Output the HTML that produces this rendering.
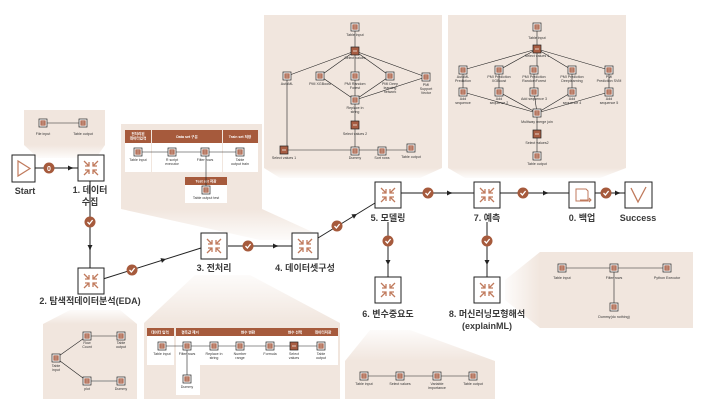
<!DOCTYPE html>
<html><head><meta charset="utf-8"><style>
body{margin:0;background:#fff;width:705px;height:413px;overflow:hidden}
svg{display:block}
text{font-family:"Liberation Sans","Noto Sans CJK KR",sans-serif}
.m{font-size:9px;fill:#3a3a3a;font-weight:bold;text-anchor:middle}
.s{font-size:3.6px;fill:#333;text-anchor:middle}
.h{font-size:3.6px;fill:#fff;text-anchor:middle;font-weight:bold}
.ln{stroke:#222;stroke-width:0.6;fill:none}
.g{stroke:#8c8c8c;stroke-width:2;fill:none}
</style></head><body>
<svg width="705" height="413" viewBox="0 0 705 413" xmlns="http://www.w3.org/2000/svg">
<defs>
<linearGradient id="fd" x1="0" y1="0" x2="0" y2="1"><stop offset="0" stop-color="#f1e6de"/><stop offset="1" stop-color="#f1e6de" stop-opacity="0.15"/></linearGradient>
<linearGradient id="fu" x1="0" y1="1" x2="0" y2="0"><stop offset="0" stop-color="#f1e6de"/><stop offset="1" stop-color="#f1e6de" stop-opacity="0.15"/></linearGradient>
<linearGradient id="fl" x1="1" y1="0" x2="0" y2="0"><stop offset="0" stop-color="#f1e6de"/><stop offset="1" stop-color="#f1e6de" stop-opacity="0.15"/></linearGradient>
<g id="node">
<rect x="0" y="0" width="26" height="26" fill="#fff" stroke="#222" stroke-width="1"/>
<g stroke="#c07a5c" stroke-width="1.3" fill="none">
<path d="M6 6L11 11M11 7V11H7"/><path d="M20 6L15 11M15 7V11H19"/>
<path d="M6 20L11 15M11 19V15H7"/><path d="M20 20L15 15M15 19V15H19"/>
</g></g>
<g id="si"><rect x="-4" y="-4" width="8" height="8" fill="#fff" stroke="#222" stroke-width="0.7"/><rect x="-2.6" y="-2.6" width="5.2" height="5.2" fill="#a85d43"/><path d="M-1.6 -1H1.6M-1.6 1H1.6" stroke="#fff" stroke-width="0.6"/></g>
<g id="sf"><rect x="-4" y="-4" width="8" height="8" fill="#a85d43" stroke="#222" stroke-width="0.7"/><path d="M-2 0H2" stroke="#fff" stroke-width="0.7"/></g>
<g id="ck"><circle r="5.5" fill="#a65a3c"/><path d="M-2.5 0L-0.6 2L2.6 -2" stroke="#fff" stroke-width="1.3" fill="none"/></g>
<path id="ar" d="M0 0L-5 -2.5V2.5Z" fill="#222"/>
</defs>

<!-- callout trapezoids -->
<path d="M24 145H105L96 158H38Z" fill="url(#fd)"/>
<path d="M121 209H262L330 240H260Z" fill="url(#fd)"/>
<path d="M264 168H442L420 178H280Z" fill="url(#fd)"/>
<path d="M448 168H626L600 178H465Z" fill="url(#fd)"/>
<path d="M43 324H137L120 310H70Z" fill="url(#fu)"/>
<path d="M144 323H340L250 275H195Z" fill="url(#fu)"/>
<path d="M345 361H495L410 330H370Z" fill="url(#fu)"/>
<path d="M540 252V328L505 300V280Z" fill="url(#fl)"/>

<!-- panels -->
<rect x="24" y="110" width="81" height="35" fill="#f1e6de"/>
<rect x="121" y="124" width="141" height="85" fill="#f1e6de"/>
<rect x="264" y="15" width="178" height="153" fill="#f1e6de"/>
<rect x="448" y="15" width="178" height="153" fill="#f1e6de"/>
<rect x="43" y="324" width="94" height="75" fill="#f1e6de"/>
<rect x="144" y="323" width="196" height="76" fill="#f1e6de"/>
<rect x="345" y="361" width="150" height="38" fill="#f1e6de"/>
<rect x="540" y="252" width="153" height="76" fill="#f1e6de"/>

<!-- file input panel -->
<line class="ln" x1="43" y1="123" x2="83" y2="123"/>
<use href="#si" x="43" y="123"/><use href="#si" x="83" y="123"/>
<text class="s" x="43" y="135">File input</text><text class="s" x="83" y="135">Table output</text>

<!-- preprocess top panel -->
<rect x="125" y="130" width="26" height="13" fill="#a65a3c"/>
<rect x="152" y="130" width="70" height="13" fill="#a65a3c"/>
<rect x="223" y="130" width="35" height="13" fill="#a65a3c"/>
<rect x="125" y="143" width="26" height="29" fill="#fff"/>
<rect x="152" y="143" width="70" height="29" fill="#fff"/>
<rect x="223" y="143" width="35" height="29" fill="#fff"/>
<rect x="185" y="177" width="42" height="8" fill="#a65a3c"/>
<rect x="185" y="185" width="42" height="18" fill="#fff"/>
<text class="h" x="138" y="135">전처리된</text><text class="h" x="138" y="139.5">데이터입력</text>
<text class="h" x="187" y="138">Data set 구분</text><text class="h" x="240" y="138">Train set 저장</text>
<text class="h" x="206" y="182.5">Test set 저장</text>
<line class="ln" x1="138" y1="152" x2="240" y2="152"/><line class="ln" x1="206" y1="152" x2="206" y2="190"/>
<use href="#si" x="138" y="152"/><use href="#si" x="172" y="152"/><use href="#si" x="205" y="152"/><use href="#si" x="240" y="152"/><use href="#si" x="206" y="190"/>
<text class="s" x="138" y="161">Table input</text><text class="s" x="172" y="161">R script</text><text class="s" x="172" y="165">executor</text>
<text class="s" x="205" y="161">Filter rows</text><text class="s" x="240" y="161">Table</text><text class="s" x="240" y="165">output train</text>
<text class="s" x="206" y="199">Table output test</text>

<!-- top left model panel -->
<g class="ln">
<path d="M355 27V51"/><path d="M355 51L287 76M355 51L320 76M355 51V76M355 51L390 76M355 51L426 77"/>
<path d="M320 76L355 100M355 76V100M390 76L355 100M426 77L355 100"/>
<path d="M355 100V125V151"/><path d="M287 76V150H411"/>
</g>
<use href="#si" x="355" y="27"/><use href="#sf" x="355" y="51"/>
<use href="#si" x="287" y="76"/><use href="#si" x="320" y="76"/><use href="#si" x="355" y="76"/><use href="#si" x="390" y="76"/><use href="#si" x="426" y="77"/>
<use href="#si" x="355" y="100"/><use href="#sf" x="355" y="125"/>
<use href="#sf" x="284" y="150"/><use href="#si" x="355" y="151"/><use href="#si" x="382" y="151"/><use href="#si" x="411" y="148"/>
<text class="s" x="355" y="36">Table input</text><text class="s" x="355" y="59">Select values</text>
<text class="s" x="287" y="85">AutoML</text><text class="s" x="320" y="85">PMI XGBoost</text>
<text class="s" x="355" y="85">PMI Random</text><text class="s" x="355" y="89">Forest</text>
<text class="s" x="390" y="85">PMI Deep</text><text class="s" x="390" y="89">learning</text><text class="s" x="390" y="93">network</text>
<text class="s" x="426" y="86">PMI</text><text class="s" x="426" y="90">Support</text><text class="s" x="426" y="94">Vector</text>
<text class="s" x="355" y="109">Replace in</text><text class="s" x="355" y="113">string</text>
<text class="s" x="355" y="135">Select values 2</text>
<text class="s" x="284" y="159">Select values 1</text><text class="s" x="355" y="159">Dummy</text><text class="s" x="382" y="159">Sort rows</text><text class="s" x="411" y="158">Table output</text>

<!-- top right prediction panel -->
<g class="ln">
<path d="M537 27V49"/><path d="M537 49L463 70M537 49L499 70M537 49V70M537 49L572 70M537 49L609 70"/>
<path d="M463 70V92M499 70V92M534 70V92M572 70V92M609 70V92"/>
<path d="M463 92L537 113M499 92L537 113M534 92L537 113M572 92L537 113M609 92L537 113"/>
<path d="M537 113V156"/>
</g>
<use href="#si" x="537" y="27"/><use href="#sf" x="537" y="49"/>
<use href="#si" x="463" y="70"/><use href="#si" x="499" y="70"/><use href="#si" x="534" y="70"/><use href="#si" x="572" y="70"/><use href="#si" x="609" y="70"/>
<use href="#si" x="463" y="92"/><use href="#si" x="499" y="92"/><use href="#si" x="534" y="92"/><use href="#si" x="572" y="92"/><use href="#si" x="609" y="92"/>
<use href="#si" x="537" y="113"/><use href="#sf" x="537" y="134"/><use href="#si" x="537" y="156"/>
<text class="s" x="537" y="39">Table input</text><text class="s" x="537" y="57">Select values 1</text>
<text class="s" x="463" y="78">AutoML</text><text class="s" x="463" y="82">Prediction</text>
<text class="s" x="499" y="78">PMI Prediction</text><text class="s" x="499" y="82">XGBoost</text>
<text class="s" x="534" y="78">PMI Prediction</text><text class="s" x="534" y="82">RandomForest</text>
<text class="s" x="572" y="78">PMI Prediction</text><text class="s" x="572" y="82">Deeplearning</text>
<text class="s" x="609" y="78">PMI</text><text class="s" x="609" y="82">Prediction SVM</text>
<text class="s" x="463" y="100">Add</text><text class="s" x="463" y="104">sequence</text>
<text class="s" x="499" y="100">Add</text><text class="s" x="499" y="104">sequence 2</text>
<text class="s" x="534" y="100">Add sequence 3</text>
<text class="s" x="572" y="100">Add</text><text class="s" x="572" y="104">sequence 4</text>
<text class="s" x="609" y="100">Add</text><text class="s" x="609" y="104">sequence 5</text>
<text class="s" x="537" y="123">Multiway merge join</text><text class="s" x="537" y="144">Select values2</text><text class="s" x="537" y="165">Table output</text>

<!-- EDA panel -->
<g class="ln"><path d="M56 358L87 336H121M56 358L87 381"/></g>
<line x1="87" y1="381" x2="121" y2="381" stroke="#999" stroke-width="1.2"/>
<use href="#si" x="56" y="358"/><use href="#si" x="87" y="336"/><use href="#si" x="121" y="336"/><use href="#si" x="87" y="381"/><use href="#si" x="121" y="381"/>
<text class="s" x="56" y="367">Table</text><text class="s" x="56" y="371">input</text>
<text class="s" x="87" y="344">Row</text><text class="s" x="87" y="348">Count</text>
<text class="s" x="121" y="344">Table</text><text class="s" x="121" y="348">output</text>
<text class="s" x="87" y="390">plot</text><text class="s" x="121" y="390">Dummy</text>

<!-- preprocess bottom panel -->
<rect x="147" y="328" width="27" height="8" fill="#a65a3c"/>
<rect x="176" y="328" width="162" height="8" fill="#a65a3c"/>
<rect x="147" y="336" width="27" height="29" fill="#fff"/>
<rect x="176" y="336" width="162" height="29" fill="#fff"/>
<rect x="176" y="365" width="24" height="30" fill="#fff"/>
<text class="h" x="160" y="333.5">데이터 입력</text><text class="h" x="190" y="333.5">결측값 제거</text>
<text class="h" x="248" y="333.5">변수 변환</text><text class="h" x="295" y="333.5">변수 선택</text><text class="h" x="323" y="333.5">데이터저장</text>
<g class="ln"><path d="M162 346H321M187 346V379"/></g>
<use href="#si" x="162" y="346"/><use href="#si" x="187" y="346"/><use href="#si" x="214" y="346"/><use href="#si" x="240" y="346"/><use href="#si" x="270" y="346"/><use href="#sf" x="294" y="346"/><use href="#si" x="321" y="346"/><use href="#si" x="187" y="379"/>
<text class="s" x="162" y="355">Table input</text><text class="s" x="187" y="355">Filter rows</text>
<text class="s" x="214" y="355">Replace in</text><text class="s" x="214" y="359">string</text>
<text class="s" x="240" y="355">Number</text><text class="s" x="240" y="359">range</text>
<text class="s" x="270" y="355">Formula</text>
<text class="s" x="294" y="355">Select</text><text class="s" x="294" y="359">values</text>
<text class="s" x="321" y="355">Table</text><text class="s" x="321" y="359">output</text>
<text class="s" x="187" y="388">Dummy</text>

<!-- var importance panel -->
<line class="ln" x1="364" y1="376" x2="473" y2="376"/>
<use href="#si" x="364" y="376"/><use href="#si" x="400" y="376"/><use href="#si" x="437" y="376"/><use href="#si" x="473" y="376"/>
<text class="s" x="364" y="385">Table input</text><text class="s" x="400" y="385">Select values</text>
<text class="s" x="437" y="385">Variable</text><text class="s" x="437" y="389">importance</text><text class="s" x="473" y="385">Table output</text>

<!-- explain panel -->
<g class="ln"><path d="M562 268H667M614 268V307"/></g>
<use href="#si" x="562" y="268"/><use href="#si" x="614" y="268"/><use href="#si" x="667" y="268"/><use href="#si" x="614" y="307"/>
<text class="s" x="562" y="279">Table input</text><text class="s" x="614" y="279">Filter rows</text><text class="s" x="667" y="279">Python Executor</text>
<text class="s" x="614" y="318">Dummy(do nothing)</text>

<!-- main connectors -->
<line class="g" x1="35" y1="168" x2="78" y2="168"/><use href="#ar" x="73" y="168"/>
<circle cx="49" cy="168" r="5.5" fill="#a65a3c"/><text x="49" y="171" font-size="7" fill="#fff" text-anchor="middle" font-weight="bold">0</text>
<line class="g" x1="90" y1="181" x2="90" y2="268"/><use href="#ar" transform="translate(90 250) rotate(90)"/><use href="#ck" x="90" y="222"/>
<line x1="103" y1="279" x2="201" y2="248" stroke="#222" stroke-width="1"/><use href="#ar" transform="translate(166 259) rotate(-17)"/><use href="#ck" x="132" y="270"/>
<line class="g" x1="228" y1="246" x2="292" y2="246"/><use href="#ar" transform="translate(278 246)"/><use href="#ck" x="248" y="246"/>
<line x1="318" y1="238" x2="375" y2="203" stroke="#222" stroke-width="1"/><use href="#ar" transform="translate(357 214) rotate(-31)"/><use href="#ck" x="337" y="226"/>
<line class="g" x1="401" y1="193" x2="474" y2="193"/><use href="#ar" x="452" y="193"/><use href="#ck" x="428" y="193"/>
<line class="g" x1="500" y1="193" x2="569" y2="193"/><use href="#ar" x="548" y="193"/><use href="#ck" x="523" y="193"/>
<line class="g" x1="595" y1="193" x2="625" y2="193"/><use href="#ar" x="620" y="193"/><use href="#ck" x="606" y="193"/>
<line x1="388" y1="222" x2="388" y2="277" stroke="#222" stroke-width="1"/><use href="#ar" transform="translate(388 265) rotate(90)"/><use href="#ck" x="388" y="241"/>
<line x1="487" y1="222" x2="487" y2="277" stroke="#222" stroke-width="1"/><use href="#ar" transform="translate(487 265) rotate(90)"/><use href="#ck" x="487" y="241"/>

<!-- main nodes -->
<rect x="12" y="155" width="23" height="27" fill="#fff" stroke="#222" stroke-width="1"/>
<path d="M18 161V176L30 168.5Z" fill="none" stroke="#c07a5c" stroke-width="1.2"/>
<use href="#node" x="78" y="155"/><use href="#node" x="78" y="268"/><use href="#node" x="201" y="233"/><use href="#node" x="292" y="233"/>
<use href="#node" x="375" y="182"/><use href="#node" x="474" y="182"/><use href="#node" x="375" y="277"/><use href="#node" x="474" y="277"/>
<rect x="569" y="182" width="26" height="26" fill="#fff" stroke="#222" stroke-width="1"/>
<path d="M576 189H586L588 191V201H576Z" fill="none" stroke="#c07a5c" stroke-width="1"/><path d="M580 200H591M589 198L591 200L589 202" fill="none" stroke="#c07a5c" stroke-width="1"/>
<rect x="625" y="182" width="27" height="26" fill="#fff" stroke="#222" stroke-width="1"/>
<path d="M631 188L638 202L646 187" fill="none" stroke="#c07a5c" stroke-width="1.3"/>

<!-- main labels -->
<text class="m" x="25" y="194">Start</text>
<text class="m" x="90" y="193">1. 데이터</text><text class="m" x="90" y="205">수집</text>
<text class="m" x="90" y="304">2. 탐색적데이터분석(EDA)</text>
<text class="m" x="214" y="271">3. 전처리</text>
<text class="m" x="305" y="271">4. 데이터셋구성</text>
<text class="m" x="388" y="221">5. 모델링</text>
<text class="m" x="487" y="221">7. 예측</text>
<text class="m" x="582" y="221">0. 백업</text>
<text class="m" x="638" y="221">Success</text>
<text class="m" x="388" y="317">6. 변수중요도</text>
<text class="m" x="487" y="317">8. 머신러닝모형해석</text><text class="m" x="487" y="329">(explainML)</text>
</svg>
</body></html>
